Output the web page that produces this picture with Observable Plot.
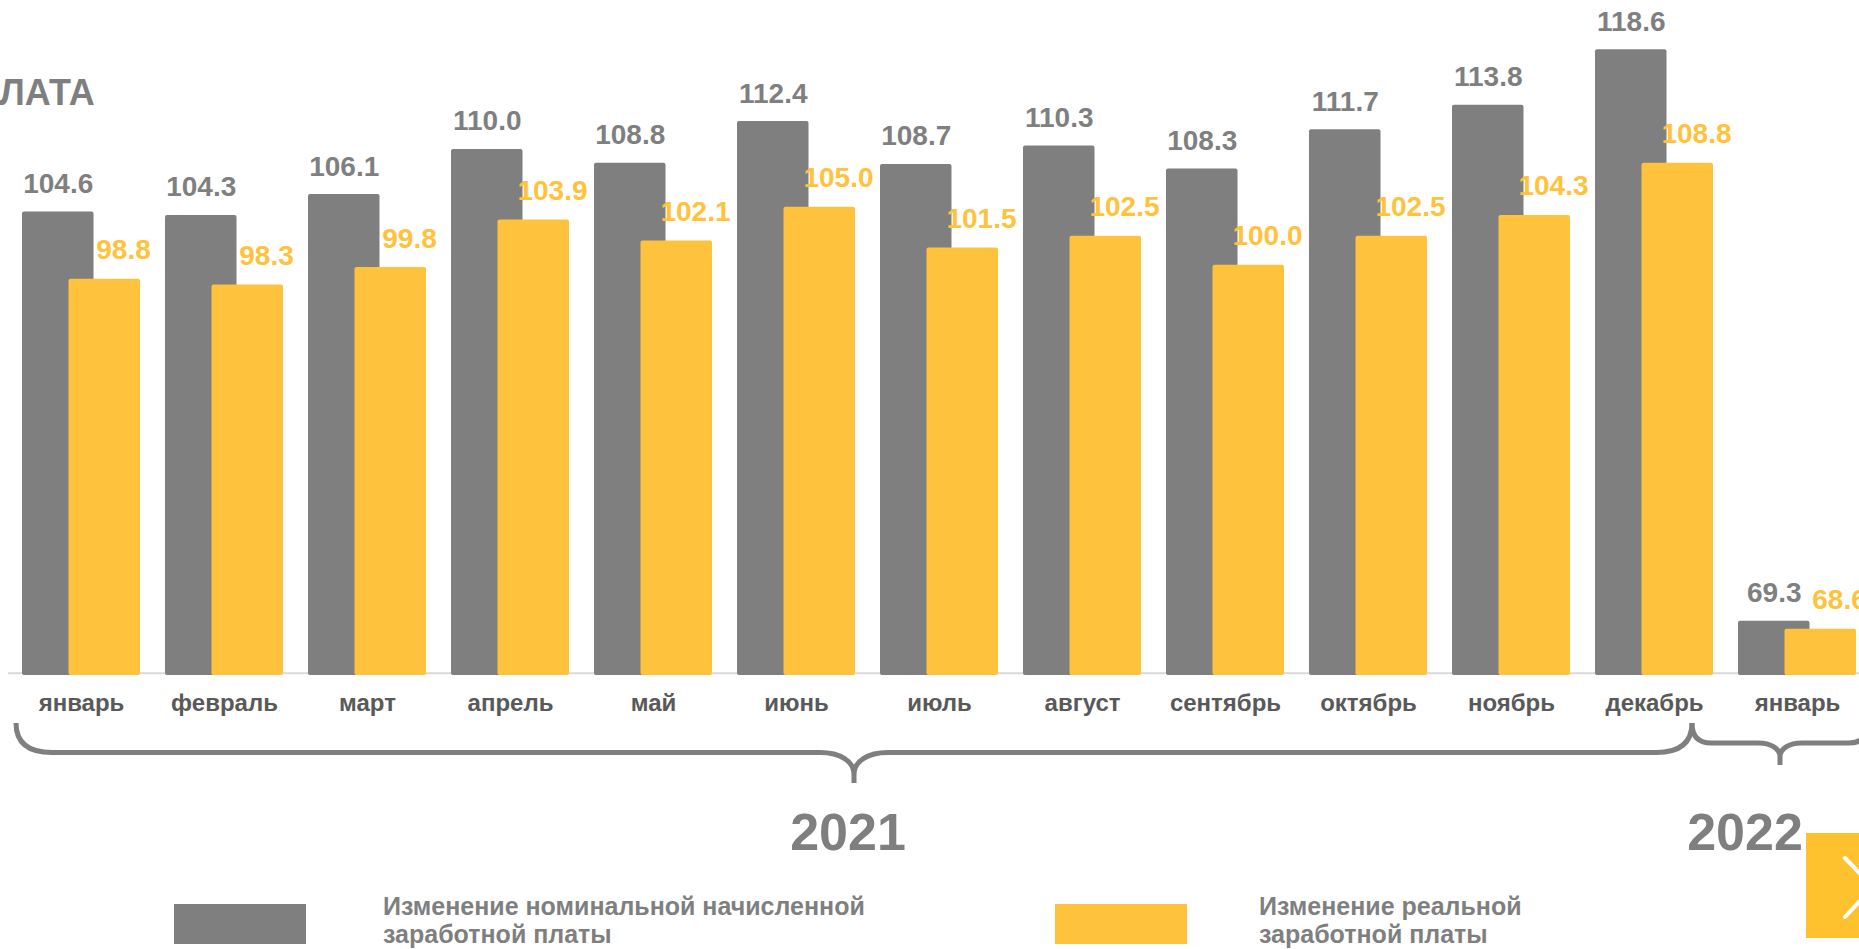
<!DOCTYPE html>
<html>
<head>
<meta charset="utf-8">
<script src="https://cdn.jsdelivr.net/npm/d3@7"></script>
<script src="https://cdn.jsdelivr.net/npm/@observablehq/plot@0.6"></script>
<style>
  html, body { margin: 0; padding: 0; background: #fff; width: 1859px; height: 949px; overflow: hidden; }
  body { position: relative; font-family: "Liberation Sans", Arial, sans-serif; font-weight: bold; }
  #chart { position: absolute; left: 0; top: 0; }
  .swatch { position: absolute; top: 904px; width: 132px; height: 40px; }
  .ltext { position: absolute; top: 893px; font-size: 25px; line-height: 27.5px; color: #7f7f7f; white-space: nowrap; }
  .next { position: absolute; left: 1806px; top: 833px; width: 60px; height: 105px; background: #ffc22f; overflow: visible; }
</style>
</head>
<body>
<div id="chart"></div>
<div id="legend"></div>
<div class="next"><svg width="80" height="105" style="overflow:visible"><polyline points="39,25 67,54 39,84" fill="none" stroke="#fff" stroke-width="4" stroke-linecap="round" stroke-linejoin="round"/></svg></div>
<script>
// ---- data ----
const months = ["январь","февраль","март","апрель","май","июнь","июль","август","сентябрь","октябрь","ноябрь","декабрь","январь"];
const monthYears = ["2021","2021","2021","2021","2021","2021","2021","2021","2021","2021","2021","2021","2022"];
const nominal = [104.6,104.3,106.1,110.0,108.8,112.4,108.7,110.3,108.3,111.7,113.8,118.6,69.3];
const real = [98.8,98.3,99.8,103.9,102.1,105.0,101.5,102.5,100.0,102.5,104.3,108.8,68.6];
const seriesNames = ["Изменение номинальной начисленной\nзаработной платы", "Изменение реальной\nзаработной платы"];
const yearLabels = ["2021", "2022"];
const titleText = "ЛАТА";

// ---- styles ----
const GRAY = "#7f7f7f";
const YELLOW = "#ffc23c";
const LABEL = "#595959";
const FONT = "Liberation Sans, Arial, sans-serif";
const yBase = 64.6;

const data = months.map((m, i) => ({
  key: monthYears[i] + "-" + i, month: m, year: monthYears[i], nominal: nominal[i], real: real[i]
}));
const keys = data.map(d => d.key);

function bracePath(xL, xR, xc, yTop, yMid, yTip, rx, rc, h) {
  return `M${xL},${yTop}Q${xL},${yMid} ${xL + rx},${yMid}L${xc - rc},${yMid}` +
    `C${xc - rc * 0.4},${yMid} ${xc},${yMid + h * 0.4} ${xc},${yMid + h}L${xc},${yTip}` +
    `M${xc},${yMid + h}C${xc},${yMid + h * 0.4} ${xc + rc * 0.4},${yMid} ${xc + rc},${yMid}` +
    `L${xR - rx},${yMid}Q${xR},${yMid} ${xR},${yTop}`;
}

function braces(index, scales) {
  const x = scales.x;
  const g = d3.create("svg:g");
  const groups = yearLabels.map(y => keys.filter(k => k.startsWith(y)));
  // 2021
  const xL1 = x(groups[0][0]) - 6;
  const xR1 = x(groups[0][groups[0].length - 1]) + 97;
  const xc1 = (xL1 + xR1) / 2;
  // 2022
  const xL2 = xR1;
  const xc2 = x(groups[1][0]) + 42;
  const xR2 = 2 * xc2 - xL2;
  g.append("path").attr("d", bracePath(xL1, xR1, xc1, 723, 752.5, 783, 36, 34, 22))
    .attr("fill", "none").attr("stroke", GRAY).attr("stroke-width", 5)
    .attr("stroke-linecap", "butt").attr("stroke-linejoin", "round");
  g.append("path").attr("d", bracePath(xL2, xR2, xc2, 723, 743, 765, 19, 22, 14))
    .attr("fill", "none").attr("stroke", GRAY).attr("stroke-width", 5)
    .attr("stroke-linecap", "butt").attr("stroke-linejoin", "round");
  const yl = [[xc1 - 6, yearLabels[0]], [xc2 - 35, yearLabels[1]]];
  for (const [xp, t] of yl) {
    g.append("text").attr("x", xp).attr("y", 850).attr("text-anchor", "middle")
      .attr("font-family", FONT).attr("font-weight", "bold").attr("font-size", 52)
      .attr("fill", GRAY).text(t);
  }
  return g.node();
}

const plot = Plot.plot({
  width: 1859,
  height: 880,
  margin: 0,
  style: { background: "#fff", fontFamily: FONT },
  x: { type: "band", domain: keys, range: [20.3, 1857.7], paddingInner: 0.178, paddingOuter: 0, align: 0.5, axis: null },
  y: { domain: [yBase, 120], range: [675.1, 33.0], axis: null },
  marks: [
    Plot.ruleY([yBase], { stroke: "#d9d9d9", strokeWidth: 2, dy: -2.4, insetLeft: 8 }),
    Plot.barY(data, { x: "key", y1: yBase, y2: "nominal", fill: GRAY, insetRight: 46.5, rx: 2 }),
    Plot.barY(data, { x: "key", y1: yBase, y2: "real", fill: YELLOW, insetLeft: 46.5, rx: 2 }),
    Plot.text(data, { x: "key", y: "nominal", text: d => d.nominal.toFixed(1), dx: -23.25, dy: -19,
      lineAnchor: "bottom", fill: GRAY, fontSize: 28, fontWeight: "bold", fontFamily: FONT }),
    Plot.text(data, { x: "key", y: "real", text: d => d.real.toFixed(1), dx: 42, dy: -20,
      lineAnchor: "bottom", fill: YELLOW, fontSize: 28, fontWeight: "bold", fontFamily: FONT }),
    Plot.text(data, { x: "key", y: yBase, text: "month", dy: 35, lineAnchor: "bottom",
      fill: LABEL, fontSize: 24, fontWeight: "bold", fontFamily: FONT }),
    Plot.text([titleText], { frameAnchor: "top-left", text: d => d, dx: -1, dy: 104, lineAnchor: "bottom",
      textAnchor: "start", fill: GRAY, fontSize: 36, fontWeight: "bold", fontFamily: FONT }),
    braces
  ]
});
document.getElementById("chart").appendChild(plot);

// ---- legend ----
const legend = document.getElementById("legend");
const legendItems = [
  { name: seriesNames[0], color: GRAY, swatchLeft: 174, textLeft: 383 },
  { name: seriesNames[1], color: YELLOW, swatchLeft: 1055, textLeft: 1259 }
];
for (const it of legendItems) {
  const sw = document.createElement("div");
  sw.className = "swatch";
  sw.style.left = it.swatchLeft + "px";
  sw.style.background = it.color;
  legend.appendChild(sw);
  const tx = document.createElement("div");
  tx.className = "ltext";
  tx.style.left = it.textLeft + "px";
  tx.innerHTML = it.name.split("\n").join("<br>");
  legend.appendChild(tx);
}
</script>
</body>
</html>
